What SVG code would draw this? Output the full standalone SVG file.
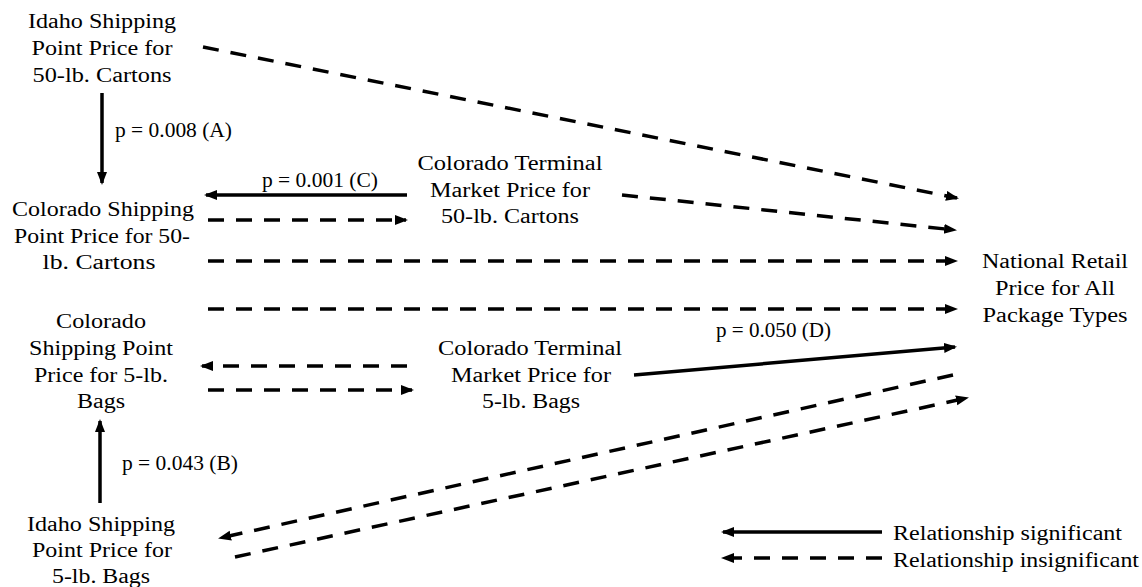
<svg xmlns="http://www.w3.org/2000/svg" width="1142" height="587" viewBox="0 0 1142 587">
<defs>
<style>
text{font-family:"Liberation Serif","Times New Roman",serif;font-size:20px;fill:#000}
.n text{text-anchor:middle}
.s{stroke:#000;stroke-width:3.5;fill:none}
.d{stroke:#000;stroke-width:3.5;fill:none;stroke-dasharray:16 12}
</style>
<marker id="ah" markerUnits="userSpaceOnUse" markerWidth="14" markerHeight="12" refX="11" refY="5" orient="auto">
<path d="M0,0 L13,5 L0,10 z" fill="#000"/>
</marker>
</defs>
<rect width="1142" height="587" fill="#fff"/>
<g id="idaho50" class="n">
<text x="102" y="28" textLength="148" lengthAdjust="spacingAndGlyphs">Idaho Shipping</text>
<text x="102" y="55" textLength="141" lengthAdjust="spacingAndGlyphs">Point Price for</text>
<text x="102" y="82" textLength="139" lengthAdjust="spacingAndGlyphs">50-lb. Cartons</text>
</g>
<g id="colo50" class="n">
<text x="103" y="216" textLength="182" lengthAdjust="spacingAndGlyphs">Colorado Shipping</text>
<text x="102" y="243" textLength="176" lengthAdjust="spacingAndGlyphs">Point Price for 50-</text>
<text x="99" y="269" textLength="113" lengthAdjust="spacingAndGlyphs">lb. Cartons</text>
</g>
<g id="colo5" class="n">
<text x="101" y="328" textLength="90" lengthAdjust="spacingAndGlyphs">Colorado</text>
<text x="101" y="355" textLength="144" lengthAdjust="spacingAndGlyphs">Shipping Point</text>
<text x="101" y="382" textLength="134" lengthAdjust="spacingAndGlyphs">Price for 5-lb.</text>
<text x="101" y="408" textLength="48" lengthAdjust="spacingAndGlyphs">Bags</text>
</g>
<g id="idaho5" class="n">
<text x="101" y="531" textLength="148" lengthAdjust="spacingAndGlyphs">Idaho Shipping</text>
<text x="102" y="557" textLength="140" lengthAdjust="spacingAndGlyphs">Point Price for</text>
<text x="101" y="583" textLength="98" lengthAdjust="spacingAndGlyphs">5-lb. Bags</text>
</g>
<g id="term50" class="n">
<text x="510" y="170" textLength="185" lengthAdjust="spacingAndGlyphs">Colorado Terminal</text>
<text x="510" y="197" textLength="160" lengthAdjust="spacingAndGlyphs">Market Price for</text>
<text x="510" y="223" textLength="138" lengthAdjust="spacingAndGlyphs">50-lb. Cartons</text>
</g>
<g id="term5" class="n">
<text x="530" y="355" textLength="184" lengthAdjust="spacingAndGlyphs">Colorado Terminal</text>
<text x="531" y="382" textLength="160" lengthAdjust="spacingAndGlyphs">Market Price for</text>
<text x="531" y="408" textLength="98" lengthAdjust="spacingAndGlyphs">5-lb. Bags</text>
</g>
<g id="national" class="n">
<text x="1055" y="268" textLength="146" lengthAdjust="spacingAndGlyphs">National Retail</text>
<text x="1055" y="295" textLength="120" lengthAdjust="spacingAndGlyphs">Price for All</text>
<text x="1055" y="322" textLength="145" lengthAdjust="spacingAndGlyphs">Package Types</text>
</g>
<g id="connectors">
<line class="s" x1="102" y1="93" x2="102" y2="183" marker-end="url(#ah)"/>
<line class="s" x1="100" y1="503" x2="100" y2="421" marker-end="url(#ah)"/>
<line class="s" x1="407" y1="195" x2="206" y2="195" marker-end="url(#ah)"/>
<line class="d" x1="208" y1="220" x2="406" y2="220" marker-end="url(#ah)"/>
<line class="d" x1="203" y1="47" x2="957" y2="198" marker-end="url(#ah)"/>
<line class="d" x1="622" y1="195" x2="955" y2="230" marker-end="url(#ah)"/>
<line class="d" x1="208" y1="261" x2="956" y2="261" marker-end="url(#ah)"/>
<line class="d" x1="208" y1="309" x2="956" y2="309" marker-end="url(#ah)"/>
<line class="d" x1="407" y1="366" x2="202" y2="366" marker-end="url(#ah)"/>
<line class="d" x1="208" y1="390" x2="412" y2="390" marker-end="url(#ah)"/>
<line class="s" x1="634" y1="375" x2="955" y2="347" marker-end="url(#ah)"/>
<line class="d" x1="953" y1="375" x2="220" y2="538" marker-end="url(#ah)"/>
<line class="d" x1="235" y1="557" x2="967" y2="398" marker-end="url(#ah)"/>
<text x="115" y="137" textLength="117" lengthAdjust="spacingAndGlyphs">p = 0.008 (A)</text>
<text x="122" y="470" textLength="116" lengthAdjust="spacingAndGlyphs">p = 0.043 (B)</text>
<text x="262" y="187" textLength="116" lengthAdjust="spacingAndGlyphs">p = 0.001 (C)</text>
<text x="716" y="337" textLength="115" lengthAdjust="spacingAndGlyphs">p = 0.050 (D)</text>
</g>
<g id="legend">
<line class="s" x1="882" y1="532" x2="723" y2="532" marker-end="url(#ah)"/>
<line class="d" x1="882" y1="558" x2="723" y2="558" marker-end="url(#ah)"/>
<text x="893" y="540" textLength="229" lengthAdjust="spacingAndGlyphs">Relationship significant</text>
<text x="893" y="567" textLength="246" lengthAdjust="spacingAndGlyphs">Relationship insignificant</text>
</g>
</svg>
